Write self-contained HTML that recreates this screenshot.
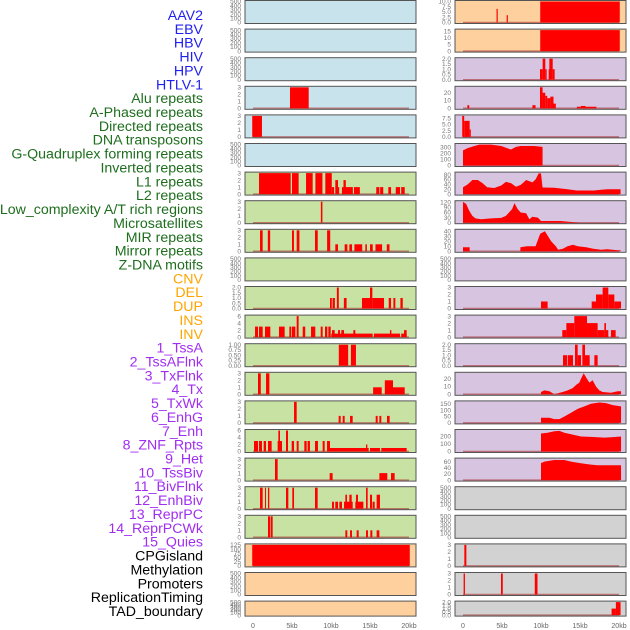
<!DOCTYPE html>
<html><head><meta charset="utf-8">
<style>
html,body{margin:0;padding:0;background:#fff;}
svg{display:block;font-family:"Liberation Sans",sans-serif;}
</style></head>
<body>
<svg id="chart" width="630" height="630" viewBox="0 0 630 630" xmlns="http://www.w3.org/2000/svg"></svg>
<script>
// ---------- data ----------
const trackLabels = ["AAV2","EBV","HBV","HIV","HPV","HTLV-1","Alu repeats","A-Phased repeats","Directed repeats","DNA transposons","G-Quadruplex forming repeats","Inverted repeats","L1 repeats","L2 repeats","Low_complexity A/T rich regions","Microsatellites","MIR repeats","Mirror repeats","Z-DNA motifs","CNV","DEL","DUP","INS","INV","1_TssA","2_TssAFlnk","3_TxFlnk","4_Tx","5_TxWk","6_EnhG","7_Enh","8_ZNF_Rpts","9_Het","10_TssBiv","11_BivFlnk","12_EnhBiv","13_ReprPC","14_ReprPCWk","15_Quies","CPGisland","Methylation","Promoters","ReplicationTiming","TAD_boundary"];
const labelGroups = [6,13,5,15,5]; // viral, repeats, SV, chromHMM, other
const xTickLabels = ["0","5kb","10kb","15kb","20kb"];
const xTickValues = [0,5,10,15,20];

const T500=[0,100,200,300,400,500], T3=[0,1,2,3], T2=[0,0.5,1,1.5,2];
// middle column bars [startKb,endKb,value]
const m3=[[4.74,7.14,3]];
const m4=[[-0.1,1.15,3]];
const m6=[[0.77,4.83,3],[5.0,5.85,3],[6.8,7.65,3],[8.0,8.9,3],[9.27,10.1,3],[10.1,10.4,1],[10.55,10.9,2],[10.9,11.05,1],[11.4,11.8,1],[11.6,11.9,2],[11.8,12.8,1],[12.95,13.7,1],[15.8,16.2,1],[16.3,16.7,1],[17.35,17.7,1],[18.3,18.85,1],[19.0,19.45,1]];
const m7=[[8.7,8.9,3]];
const m8=[[0.9,1.24,3],[1.9,2.2,3],[5.0,5.25,3],[5.6,5.95,3],[7.95,8.3,3],[9.5,9.9,3],[10.55,10.9,1],[11.75,12.1,1],[12.35,12.7,1],[13.0,14.0,1],[14.4,14.6,1],[15.0,15.35,1],[15.7,16.55,1],[17.15,17.5,1]];
const m10=[[9.87,10.1,1],[10.2,10.5,1],[10.75,11.0,2],[11.65,12.0,1],[13.97,15.0,1],[15.0,15.3,2],[15.3,16.8,1],[17.4,17.7,1],[18.0,18.25,1],[18.9,19.2,1]];
const m11=[[0.26,0.64,3],[0.77,1.24,3],[1.54,2.22,3],[3.33,4.06,3],[4.66,4.91,3],[5.0,5.43,3],[5.6,5.85,6],[6.37,6.7,3],[7.44,7.99,3],[8.68,8.93,3],[9.23,9.53,3],[9.66,9.96,3],[10.04,15.34,1],[15.5,18.85,1],[19.0,19.7,1],[10.13,10.47,2],[10.9,11.15,2],[11.32,11.67,2],[12.86,13.12,2],[17.56,17.74,2],[19.36,19.7,2]];
const m12=[[11.0,12.2,1],[12.55,13.2,1]];
const m13=[[0.64,1.0,3],[1.67,2.1,3],[15.4,16.5,1],[16.9,17.95,2],[17.95,19.45,1]];
const m14=[[5.26,5.6,3],[10.98,11.24,1],[11.5,11.75,1],[12.44,12.78,1],[15.73,15.98,1],[16.2,16.45,1],[17.18,17.52,1]];
const m15=[[0.13,0.64,3],[0.77,1.15,3],[1.37,1.67,3],[1.92,2.39,3],[3.16,3.72,3],[3.25,3.46,6],[4.23,4.49,6],[4.96,5.26,3],[5.6,5.85,3],[6.58,6.88,3],[7.0,7.3,3],[7.95,8.33,3],[8.93,9.19,3],[9.49,9.87,3],[9.87,14.83,1],[15.0,16.28,1],[16.45,19.7,1],[14.49,14.66,2]];
const m16=[[2.82,3.16,3],[9.83,10.21,1],[16.2,17.22,1],[17.69,18.16,1]];
const m17=[[0.9,1.24,3],[1.54,1.67,3],[1.92,2.09,3],[4.23,4.53,3],[5.04,5.26,3],[7.95,8.29,3],[10.13,10.38,1],[10.55,10.9,1],[11.07,11.41,1],[11.67,12.78,1],[11.84,12.05,2],[12.35,12.65,2],[13.12,14.15,1],[13.2,13.46,2],[14.49,14.7,3],[15.0,15.26,2],[15.34,15.6,1],[15.85,16.28,2]];
const m18=[[1.92,2.18,3],[2.26,2.52,3],[11.84,12.09,1],[12.44,12.69,1],[13.29,13.55,1],[14.49,14.74,1],[15.04,15.3,1],[15.85,16.2,1]];
const m19=[[-0.1,20.1,125]];
// right column bars
const r0=[[4.3,4.45,6.5],[5.6,5.75,3.5],[9.9,20.1,10]];
const r1=[[9.9,20.1,16]];
const r2=[[9.87,10.21,1],[10.21,10.55,2],[10.55,10.73,1],[10.98,11.07,1],[11.07,11.5,2],[11.5,11.75,1]];
const r3=[[0.56,0.8,4],[8.9,9.3,4],[9.87,10.2,27],[10.2,10.55,20],[10.55,10.8,16],[10.8,11.2,13],[11.2,11.6,15],[11.6,11.9,6],[14.6,15.1,2],[15.1,15.7,3],[15.7,17.1,2]];
const r4=[[-0.1,0.15,8.5],[0.15,0.85,6.5],[0.85,1.0,3]];
const r10=[[10.0,10.85,1],[16.5,17.05,1],[17.05,17.9,2],[17.9,18.63,3],[18.63,19.4,2],[19.4,20.26,1]];
const r11=[[12.73,13.25,1],[13.25,14.27,2],[14.27,15.9,3],[15.9,17.26,2],[17.26,18.12,1],[18.12,18.33,2],[18.33,18.63,1],[18.97,19.57,1]];
const r12=[[12.82,13.33,1],[13.42,14.1,1],[14.36,14.7,2],[14.7,15.13,1],[15.3,15.64,2],[15.64,16.24,1],[16.84,17.26,1]];
const r19=[[0.17,0.43,3]];
const r20=[[0.08,0.25,3],[4.87,5.1,3],[9.2,9.55,3]];
const r21=[[19.05,19.6,1],[19.6,20.2,2]];
// right column coverage curves [kb,value]
const r5=[[0,252],[0.6,290],[1.45,324],[2.1,348],[3.6,348],[4.9,324],[6.15,266],[6.8,310],[7.4,324],[9.1,324],[10.2,310]];
const r6=[[0,28],[0.6,40],[1.2,58],[1.9,58],[2.5,45],[3.1,28],[4.0,25],[4.9,35],[5.5,50],[6.15,45],[6.8,30],[7.4,38],[8.1,58],[8.9,48],[9.3,60],[9.7,85],[10.0,85],[10.2,27],[11.7,26],[13.4,20],[14.6,15],[16.8,15],[17.7,18],[18.5,20],[20.2,20]];
const r7=[[0,122],[0.4,110],[0.8,70],[1.2,40],[1.6,25],[2.3,20],[3.6,25],[4.9,28],[5.5,40],[5.9,60],[6.3,80],[6.6,115],[7.0,80],[7.4,60],[8.1,55],[8.5,20],[8.9,35],[9.6,30],[10.0,10],[12.5,10],[15.0,0]];
const r8=[[0,8],[0.85,8],[0.86,0],[7.35,0],[7.36,8],[8.2,10],[9.3,10],[9.9,35],[10.5,40],[10.9,30],[11.3,20],[11.9,10],[12.2,3],[12.8,5],[13.4,10],[14.1,13],[14.7,10],[15.8,8],[16.7,5],[17.7,3],[18.5,4],[19.8,2],[20.2,2]];
const r13=[[10,3],[10.43,5],[11.07,4],[11.7,0],[12.78,3],[13.42,5],[14.06,8],[14.49,12],[14.91,15],[15.13,20],[15.47,27],[15.77,22],[16.2,15],[16.62,18],[17.05,10],[17.48,5],[17.9,3],[18.97,2],[19.4,3],[19.83,4],[20.26,4]];
const r14=[[10,40],[11.07,40],[11.7,30],[12.35,30],[13,50],[13.85,80],[14.7,110],[15.56,130],[16.4,150],[17.48,160],[18.33,155],[19.2,140],[20.26,130]];
const r15=[[10,240],[10.85,250],[11.7,270],[12.35,275],[13,250],[13.85,230],[15.13,200],[16.4,195],[17.26,190],[18.12,185],[18.97,190],[20.26,200]];
const r16=[[10,55],[10.43,60],[11.7,65],[13,65],[13.85,60],[14.7,56],[15.56,53],[16.4,50],[17.26,48],[20.26,48]];

// ---------- layout / config ----------
const BLUE='#c8e3eb', GREEN='#c8e2a4', ORANGE='#fed09e', PURPLE='#d6c4e1', GRAY='#d2d2d2';
const midCfg=[
 [BLUE,T500,null,null],[BLUE,T500,null,null],[BLUE,T500,null,null],[BLUE,T3,m3,null],[BLUE,T3,m4,null],[BLUE,T500,null,null],
 [GREEN,T3,m6,null],[GREEN,T3,m7,null],[GREEN,T3,m8,null],[GREEN,T500,null,null],[GREEN,T2,m10,null],[GREEN,[0,2,4,6],m11,null],
 [GREEN,[0,0.25,0.5,0.75,1],m12,null],[GREEN,T3,m13,null],[GREEN,T3,m14,null],[GREEN,[0,2,4,6],m15,null],[GREEN,T3,m16,null],
 [GREEN,T3,m17,null],[GREEN,T3,m18,null],[ORANGE,[0,25,50,75,100,125],m19,null],[ORANGE,T500,null,null],[ORANGE,T500,null,null]];
const rightCfg=[
 [ORANGE,[0,2.5,5,7.5,10],r0,null,10],[ORANGE,[0,5,10,15],r1,null,16],[PURPLE,T2,r2,null],[PURPLE,[0,10,20],r3,null,27],
 [PURPLE,[0,2.5,5,7.5],r4,null,8.5],[PURPLE,[0,100,200,300],null,r5,350],[PURPLE,[0,20,40,60,80],null,r6,86],
 [PURPLE,[0,30,60,90,120],null,r7,123],[PURPLE,[0,10,20,30,40],null,r8,42],[PURPLE,T500,null,null],[PURPLE,T3,r10,null],
 [PURPLE,T3,r11,null],[PURPLE,T2,r12,null],[PURPLE,[0,10,20],null,r13,27],[PURPLE,[0,50,100,150],null,r14,165],
 [PURPLE,[0,100,200],null,r15,280],[PURPLE,[0,20,40,60],null,r16,68],[GRAY,T500,null,null],[GRAY,T500,null,null],
 [GRAY,T3,r19,null],[GRAY,T3,r20,null],[GRAY,T2,r21,null]];

const NS='http://www.w3.org/2000/svg';
const svg=document.getElementById('chart');
function mk(tag,attrs,parent){const e=document.createElementNS(NS,tag);for(const k in attrs)e.setAttribute(k,attrs[k]);(parent||svg).appendChild(e);return e;}

const COLX=[245,455], PW=171, KBPX=7.8;
function xScale(col,kb){return COLX[col]+8+kb*KBPX;}
function rowTop(i){return i*28.6;}
function rowH(i){return i===21?16:24;}
function decimals(v){const s=String(v);return s.indexOf('.')<0?0:s.length-s.indexOf('.')-1;}
function fmtTicks(ticks){
  const d=Math.max(...ticks.map(decimals));
  return ticks.map(t=>d===0?String(t):t.toFixed(d));
}

// labels
const labelColors=['#1f1fef','#1e6e1e','#ffa500','#a02ef0','#000000'];
let li=0;
labelGroups.forEach((n,g)=>{for(let k=0;k<n;k++){
  const t=mk('text',{x:203,y:(15+li*13.86+5).toFixed(1),'text-anchor':'end','font-size':'14.2',fill:labelColors[g]});
  t.textContent=trackLabels[li];
  
  
  li++;}});

function drawPanel(col,i,cfg){
  const [bg,ticks,bars,area,ymaxOverride]=cfg;
  const top=rowTop(i), h=rowH(i), bottom=top+h;
  const ymax=ymaxOverride||ticks[ticks.length-1];
  const ys=v=>bottom-1.5-v/ymax*(h-3);
  const g=mk('g',{});
  
  
  mk('rect',{x:COLX[col],y:top+0.5,width:PW,height:h-1,fill:bg},g);
  const labs=fmtTicks(ticks);
  ticks.forEach((t,k)=>{
    const tx=mk('text',{x:COLX[col]-4,y:(ys(t)+2.2).toFixed(1),'text-anchor':'end','font-size':'6.5',fill:'#777'},g);
    tx.textContent=labs[k];
    
    
  });
  if(bars||area){
    const bl=mk('line',{x1:xScale(col,0),x2:xScale(col,20),y1:ys(0),y2:ys(0),stroke:'rgba(170,50,50,0.6)','stroke-width':1.5},g);
    
    
  }
  if(bars) bars.forEach(b=>{
    const x1=xScale(col,b[0]),x2=xScale(col,b[1]),v=Math.min(b[2],ymax);
    const r=mk('rect',{x:x1.toFixed(2),y:ys(v).toFixed(2),width:Math.max(1,x2-x1).toFixed(2),height:(ys(0)-ys(v)).toFixed(2),fill:'#ff0000'},g);
    
    
  });
  if(area){
    let pts=[[xScale(col,area[0][0]),ys(0)]];
    area.forEach(p=>pts.push([xScale(col,p[0]),ys(Math.min(p[1],ymax))]));
    pts.push([xScale(col,area[area.length-1][0]),ys(0)]);
    const pg=mk('polygon',{points:pts.map(p=>p[0].toFixed(2)+','+p[1].toFixed(2)).join(' '),fill:'#ff0000'},g);
    
    
  }
  mk('rect',{x:COLX[col],y:top+0.5,width:PW,height:h-1,fill:'none',stroke:'#555','stroke-width':1},g);
}
midCfg.forEach((c,i)=>drawPanel(0,i,c));
rightCfg.forEach((c,i)=>drawPanel(1,i,c));

// x axes
[0,1].forEach(col=>{
  xTickValues.forEach((v,k)=>{
    const t=mk('text',{x:xScale(col,v),y:628,'text-anchor':'middle','font-size':'7',fill:'#666'});
    t.textContent=xTickLabels[k];
    
    
  });
});
</script>
</body></html>
